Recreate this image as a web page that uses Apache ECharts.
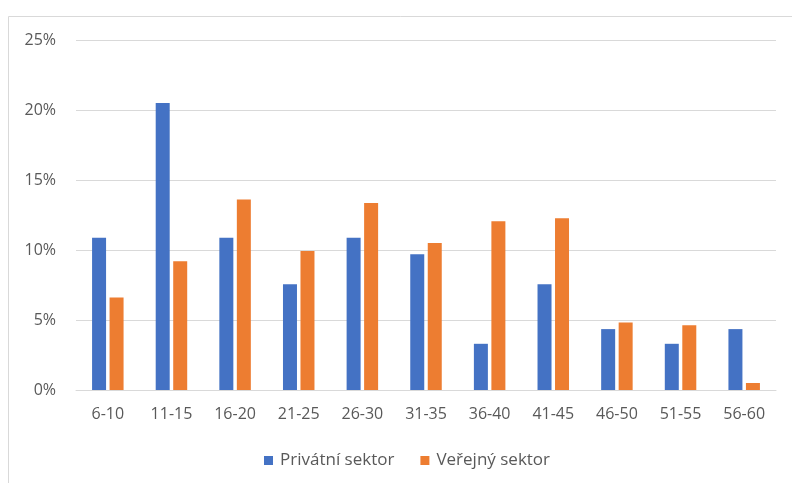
<!DOCTYPE html>
<html>
<head>
<meta charset="utf-8">
<script src="https://cdn.jsdelivr.net/npm/echarts@6/dist/echarts.min.js"></script>
<style>
html,body{margin:0;padding:0;background:#fff;}
#c{width:792px;height:483px;}
</style>
</head>
<body>
<div id="c"></div>
<script>
var categories = ['6-10','11-15','16-20','21-25','26-30','31-35','36-40','41-45','46-50','51-55','56-60'];
var privatni = [10.87, 20.5, 10.87, 7.55, 10.87, 9.7, 3.3, 7.55, 4.35, 3.3, 4.35];
var verejny = [6.6, 9.2, 13.6, 9.93, 13.35, 10.5, 12.05, 12.27, 4.83, 4.62, 0.5];
var seriesNames = ['Privátní sektor', 'Veřejný sektor'];
var yTicks = [0, 5, 10, 15, 20, 25];

var chart = echarts.init(document.getElementById('c'), null, {renderer:'canvas'});
var font = '"Open Sans", "Liberation Sans", sans-serif';
chart.setOption({
  animation: false,
  backgroundColor: '#ffffff',
  graphic: [{
    type: 'rect',
    shape: {x: 8.5, y: 16.5, width: 800, height: 500},
    style: {fill: 'none', stroke: '#d9d9d9', lineWidth: 1},
    silent: true
  }],
  grid: {left: 76, right: 16, top: 40, bottom: 93, containLabel: false},
  legend: {
    data: seriesNames,
    top: 447,
    left: 259,
    itemWidth: 9,
    itemHeight: 9,
    itemGap: 26,
    icon: 'rect',
    textStyle: {color: '#595959', fontSize: 17, fontFamily: font, padding: [0, 0, 0, 2]}
  },
  xAxis: {
    type: 'category',
    data: categories,
    axisLine: {lineStyle: {color: '#d9d9d9', width: 1}},
    axisTick: {show: false},
    axisLabel: {color: '#595959', fontSize: 16, fontFamily: font, margin: 16}
  },
  yAxis: {
    type: 'value',
    min: yTicks[0],
    max: yTicks[yTicks.length-1],
    interval: 5,
    axisLine: {show: false},
    axisTick: {show: false},
    splitLine: {lineStyle: {color: '#d9d9d9', width: 1}},
    axisLabel: {color: '#595959', fontSize: 16, fontFamily: font, margin: 20, formatter: '{value}%'}
  },
  series: [
    {name: seriesNames[0], type: 'bar', data: privatni, barWidth: 14, barGap: '25%',
     itemStyle: {color: '#4472C4'}},
    {name: seriesNames[1], type: 'bar', data: verejny, barWidth: 14,
     itemStyle: {color: '#ED7D31'}}
  ]
});
</script>
</body>
</html>
